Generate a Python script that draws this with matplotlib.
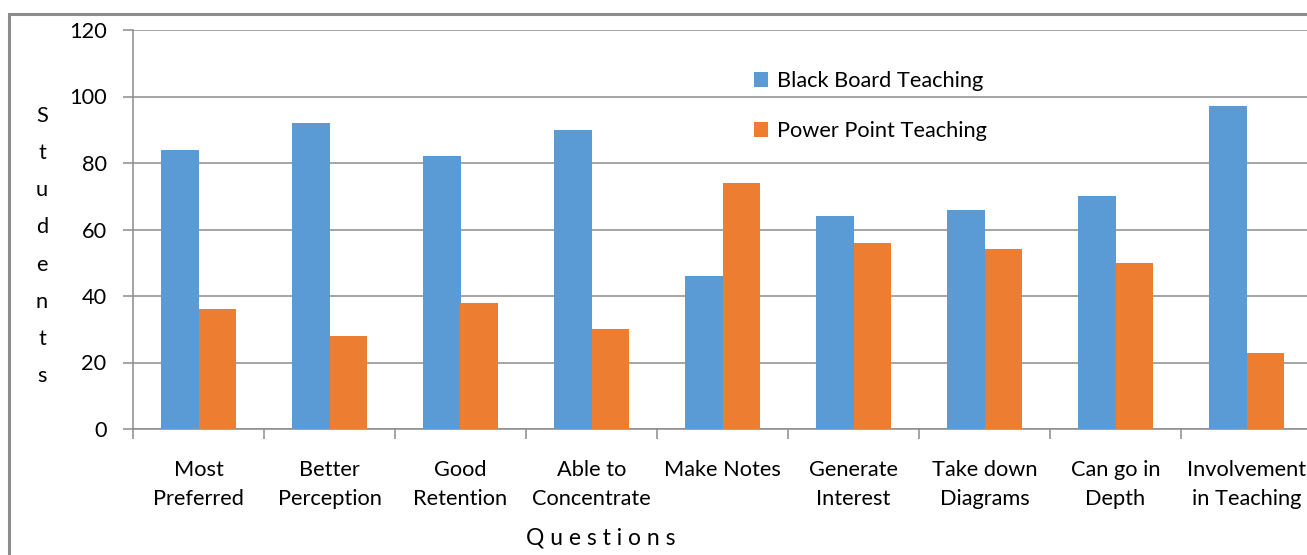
import numpy as np
import matplotlib
matplotlib.use("Agg")
import matplotlib.pyplot as plt
from matplotlib.patches import Rectangle

plt.rcParams['font.family'] = ['Lato', 'DejaVu Sans']

# data
questions = ["Most\nPreferred", "Better\nPerception", "Good\nRetention", "Able to\nConcentrate",
             "Make Notes", "Generate\nInterest", "Take down\nDiagrams", "Can go in\nDepth",
             "Involvement\nin Teaching"]
black_board = [84, 92, 82, 90, 46, 64, 66, 70, 97]
power_point = [36, 28, 38, 30, 74, 56, 54, 50, 23]

W, H = 1307, 555
fs = 15.7
fig = plt.figure(figsize=(W / 100, H / 100), dpi=100)

# outer chart border (cropped on right and bottom)
fig.patches.append(Rectangle((9 / W, -0.05), 1.2, (H - 14) / H + 0.05, transform=fig.transFigure,
                             fill=False, edgecolor='#8c8c8c', linewidth=2.2))

ax = fig.add_axes([133 / W, (H - 429) / H, (1312 - 133) / W, (429 - 30) / H])

x = np.arange(len(questions))
bw = 0.286
blue = '#5b9bd5'
orange = '#ed7d31'
ax.bar(x - bw / 2, black_board, bw, color=blue, label="Black Board Teaching", zorder=3)
ax.bar(x + bw / 2, power_point, bw, color=orange, label="Power Point Teaching", zorder=3)

ax.set_xlim(-0.5, len(questions) - 0.5)
ax.set_ylim(0, 120)
ax.set_yticks(range(0, 121, 20))
ax.yaxis.grid(True, color='#8c8c8c', linewidth=1.1, zorder=0)
ax.set_axisbelow(True)

ax.set_xticks(np.arange(-0.5, len(questions), 1.0))
ax.set_xticklabels([])
ax.set_xticks(x, minor=True)
ax.set_xticklabels(questions, minor=True, fontsize=fs, linespacing=1.57)
ax.tick_params(axis='x', which='minor', length=0, pad=22.5)
ax.tick_params(axis='x', which='major', length=7, color='#8c8c8c', width=1.1)
ax.tick_params(axis='y', length=7, color='#8c8c8c', width=1.1, labelsize=fs, pad=12)

for s in ['top', 'right']:
    ax.spines[s].set_visible(False)
for s in ['left', 'bottom']:
    ax.spines[s].set_color('#8c8c8c')
    ax.spines[s].set_linewidth(1.1)

fig.text(42 / W, 1 - 246 / H, "S\nt\nu\nd\ne\nn\nt\ns", ha='center', va='center',
         fontsize=fs, linespacing=2.07)
fig.text(601 / W, 1 - 538 / H, "Q u e s t i o n s", ha='center', va='center', fontsize=16.5)

ax.legend(loc='upper left', bbox_to_anchor=((754 - 133) / (1312 - 133), (429 - 71) / (429 - 30)),
          frameon=False, fontsize=fs, handlelength=0.65, handleheight=0.65, handletextpad=0.4,
          labelspacing=1.38, borderaxespad=0, borderpad=0)

fig.savefig("out.png", dpi=100)
